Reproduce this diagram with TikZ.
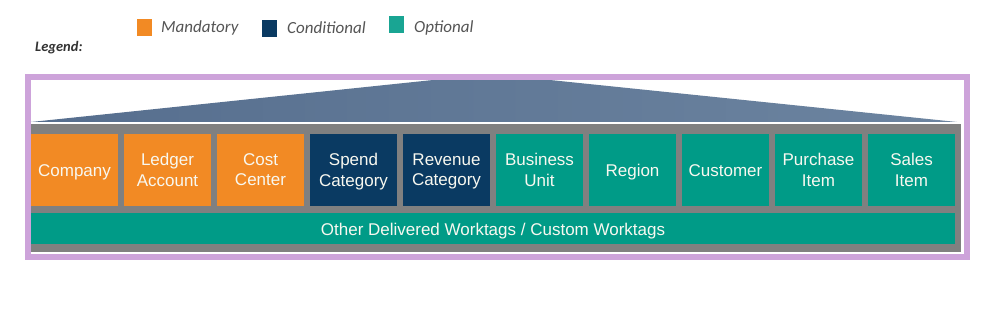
\documentclass[tikz,border=0pt]{standalone}
\usepackage{fontspec}
\setmainfont{Liberation Sans}
\newfontfamily\legendfont{Carlito}
\definecolor{mand}{RGB}{242,138,36}
\definecolor{cond}{RGB}{10,58,98}
\definecolor{opt}{RGB}{0,155,135}
\definecolor{frame}{RGB}{205,163,218}
\definecolor{graybg}{RGB}{128,128,128}
\definecolor{slateL}{RGB}{86,110,142}
\definecolor{slateR}{RGB}{108,132,160}
\definecolor{legtxt}{RGB}{85,85,85}
\definecolor{boxtxt}{RGB}{248,248,240}
\begin{document}
\begin{tikzpicture}[x=1pt,y=-1pt,
  tag/.style={minimum width=87pt,minimum height=72pt,inner sep=0pt},
  tagtext/.style={inner sep=0pt,align=center,yshift=-2.8pt,
    text=boxtxt,font=\fontsize{17}{20.4}\selectfont,
    execute at begin node=\strut,execute at end node=\strut},
  legsq/.style={minimum width=15pt,minimum height=17pt,inner sep=0pt},
  legtext/.style={anchor=west,inner sep=0pt,text=legtxt,font=\legendfont\itshape\fontsize{17}{20}\selectfont}]
\useasboundingbox (0,0) rectangle (982,312);
\fill[white] (0,0) rectangle (982,312);
% legend
\node[anchor=west,inner sep=0pt,text=black!80,font=\legendfont\bfseries\itshape\fontsize{14.5}{16}\selectfont] (leg) at (35,47.5) {Legend:};
\node[legsq,fill=mand] (sqm) at (144,28) {};
\node[legtext] (tm) at (161,28) {Mandatory};
\node[legsq,fill=cond] (sqc) at (269.5,28.5) {};
\node[legtext] (tc) at (287,28) {Conditional};
\node[legsq,fill=opt!90!white] (sqo) at (396.5,25) {};
\node[legtext] (to) at (414,28) {Optional};
% trapezoid
\shade[left color=slateL,right color=slateR] (31,122) -- (433,80) -- (550,80) -- (957,122) -- cycle;
% gray base
\fill[graybg] (31,124) rectangle (961,252);
% boxes
\node[tag,fill=mand] (b1) at (74.5,170) {};
\node[tag,fill=mand] (b2) at (167.5,170) {};
\node[tag,fill=mand] (b3) at (260.5,170) {};
\node[tag,fill=cond] (b4) at (353.5,170) {};
\node[tag,fill=cond] (b5) at (446.5,170) {};
\node[tag,fill=opt] (b6) at (539.5,170) {};
\node[tag,fill=opt] (b7) at (632.5,170) {};
\node[tag,fill=opt] (b8) at (725.5,170) {};
\node[tag,fill=opt] (b9) at (818.5,170) {};
\node[tag,fill=opt] (b10) at (911.5,170) {};
\node[tag,fill=opt,minimum width=924pt,minimum height=31pt] (bar) at (493,228.5) {};
\node[tagtext] (t1) at (b1) {Company};
\node[tagtext] (t2) at (b2) {Ledger\\Account};
\node[tagtext] (t3) at (b3) {Cost\\Center};
\node[tagtext] (t4) at (b4) {Spend\\Category};
\node[tagtext] (t5) at (b5) {Revenue\\Category};
\node[tagtext] (t6) at (b6) {Business\\Unit};
\node[tagtext] (t7) at (b7) {Region};
\node[tagtext] (t8) at (b8) {Customer};
\node[tagtext] (t9) at (b9) {Purchase\\Item};
\node[tagtext] (t10) at (b10) {Sales\\Item};
\node[tagtext] (tbar) at (bar) {Other Delivered Worktags / Custom Worktags};
% frame
\draw[frame,line width=6pt] (28,77) rectangle (966.5,257);
\end{tikzpicture}
\end{document}
